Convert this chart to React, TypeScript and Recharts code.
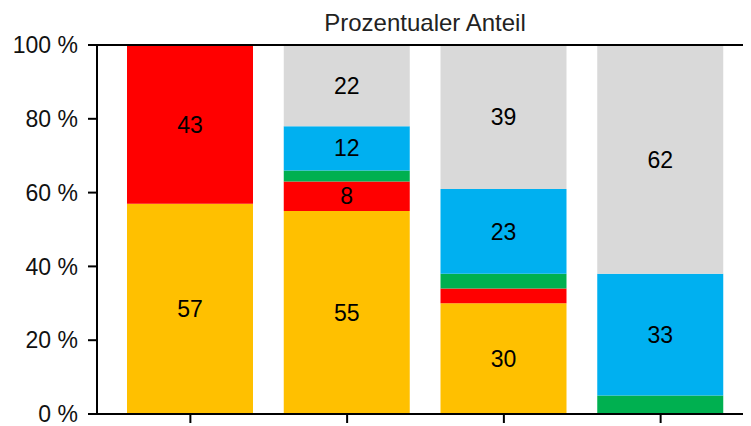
import React from 'react';
import {
  BarChart,
  Bar,
  XAxis,
  YAxis,
  ReferenceLine,
  LabelList
} from 'recharts';

// values (percent shares, stacked bottom -> top)
const categories = ['1', '2', '3', '4'];
const gelb = [57, 55, 30, 0];
const rot = [43, 8, 4, 0];
const gruen = [0, 3, 4, 5];
const blau = [0, 12, 23, 33];
const grau = [0, 22, 39, 62];
const yTicks = [0, 20, 40, 60, 80, 100];

const series = [
  { key: 'gelb', color: '#FFC000' },
  { key: 'rot', color: '#FF0000' },
  { key: 'gruen', color: '#00B050' },
  { key: 'blau', color: '#00B0F0' },
  { key: 'grau', color: '#D9D9D9' }
];

const data = categories.map((name, i) => ({
  name,
  gelb: gelb[i],
  rot: rot[i],
  gruen: gruen[i],
  blau: blau[i],
  grau: grau[i]
}));

const font = "Arial, 'Liberation Sans', sans-serif";

// small segments carry no label in the original
const labelFormat = (v: any) => (Number(v) >= 8 ? String(v) : '');

// category names are cut off in the reference, keep only the tick marks
const EmptyTick = () => <g />;

export default function App() {
  return (
    <div
      style={{
        position: 'relative',
        width: 743,
        height: 418,
        overflow: 'hidden',
        background: '#fff',
        fontFamily: font
      }}
    >
      <div
        style={{
          position: 'absolute',
          left: 0,
          top: 3,
          width: 834,
          textAlign: 'center',
          fontSize: 24,
          lineHeight: '23px',
          color: '#222'
        }}
      >
        Prozentualer Anteil
      </div>
      <BarChart
        width={900}
        height={418}
        data={data}
        margin={{ top: 37, right: 0, left: 0, bottom: 0 }}
      >
        <XAxis
          dataKey="name"
          height={12}
          tick={EmptyTick}
          tickSize={9}
          padding={{ left: 15, right: 169 }}
          axisLine={{ stroke: '#000', strokeWidth: 2 }}
          tickLine={{ stroke: '#000', strokeWidth: 2 }}
        />
        <YAxis
          width={89}
          domain={[0, 100]}
          ticks={yTicks}
          interval={0}
          tickFormatter={v => `${v} %`}
          tickSize={9}
          tickMargin={10}
          axisLine={{ stroke: '#000', strokeWidth: 2 }}
          tickLine={{ stroke: '#000', strokeWidth: 2 }}
          tick={{ fontSize: 23, fill: '#111', fontFamily: font }}
        />
        {series.map(s => (
          <Bar
            key={s.key}
            dataKey={s.key}
            stackId="a"
            fill={s.color}
            barSize={126}
            isAnimationActive={false}
          >
            <LabelList
              dataKey={s.key}
              position="center"
              formatter={labelFormat}
              style={{ fill: '#000', fontSize: 23, fontFamily: font }}
            />
          </Bar>
        ))}
        <ReferenceLine y={100} stroke="#000" strokeWidth={2} />
      </BarChart>
    </div>
  );
}
